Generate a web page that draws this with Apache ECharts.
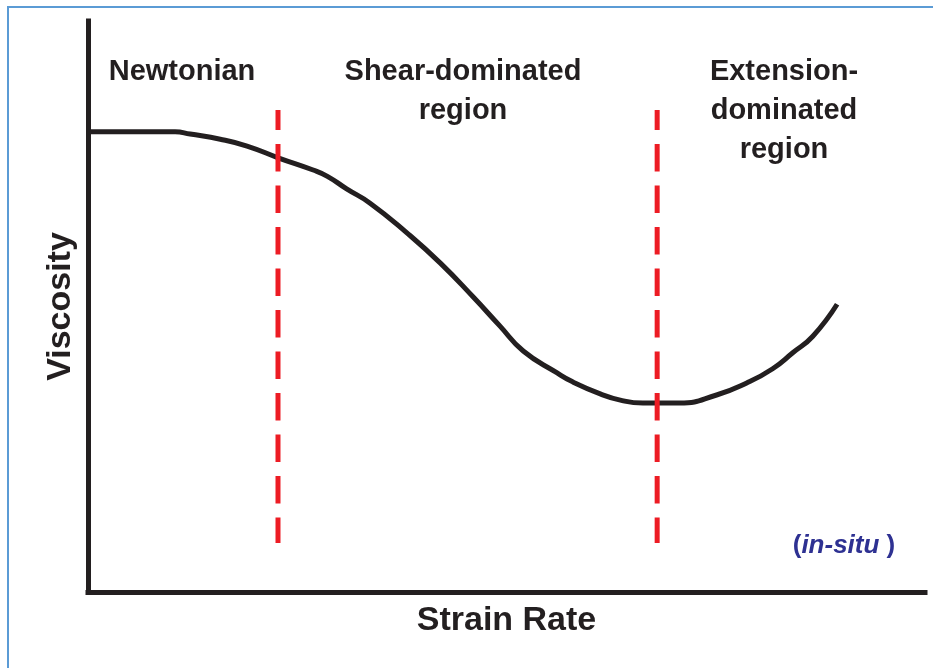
<!DOCTYPE html>
<html>
<head>
<meta charset="utf-8">
<title>Viscosity vs Strain Rate</title>
<script src="https://cdn.jsdelivr.net/npm/echarts@6/dist/echarts.min.js"></script>
<style>
  html, body { margin: 0; padding: 0; background: #fff; }
  #main { width: 933px; height: 668px; }
</style>
</head>
<body>
<div id="main"></div>
<script>
// curve (arbitrary units, 0-100 on both axes)
var strainRate = [0, 10.4, 12.2, 15.8, 19.0, 22.8, 26.9, 28.6, 30.9, 33.7, 38.1, 42.1, 46.0, 49.2, 52.0, 56.0, 57.9, 61.2, 63.6, 66.3, 70.7, 75.1, 78.7, 81.8, 84.2, 86.6, 89.5];
var viscosity  = [80.6, 80.6, 80.2, 79.3, 78.1, 76.0, 73.9, 72.8, 70.6, 68.1, 62.9, 57.6, 51.7, 46.6, 42.2, 38.4, 36.8, 34.7, 33.6, 33.1, 33.1, 34.5, 36.6, 39.1, 41.9, 44.8, 50.4];

// red dashed region boundaries
var boundaries = [22.7, 68.0];
var boundaryRange = [84.4, 8.6];

var regionLabels = [
    ['Newtonian'],
    ['Shear-dominated', 'region'],
    ['Extension-', 'dominated', 'region']
];
var noteText = 'in-situ';

var FONT = '"Liberation Sans", Arial, sans-serif';
var INK = '#231f20';

var chart = echarts.init(document.getElementById('main'));

var curveData = strainRate.map(function (x, i) { return [x, viscosity[i]]; });

var series = [{
    type: 'line',
    data: curveData,
    smooth: 0.5,
    symbol: 'none',
    lineStyle: { color: INK, width: 5 },
    z: 3
}];
boundaries.forEach(function (b) {
    series.push({
        type: 'line',
        data: [[b, boundaryRange[0]], [b, boundaryRange[1]]],
        symbol: 'none',
        lineStyle: { color: '#ed1c24', width: 5, type: [27.5, 14], dashOffset: 7.5 },
        z: 4
    });
});

// label positions (px)
var labelPos = [[182, 72], [463, 72], [784, 72]];
var lineGap = 39;
var graphics = [{
    type: 'rect',
    shape: { x: 8, y: 7, width: 940, height: 680 },
    style: { fill: 'none', stroke: '#5b9bd5', lineWidth: 2 },
    silent: true
}];
regionLabels.forEach(function (lines, k) {
    lines.forEach(function (t, j) {
        graphics.push({
            type: 'text',
            x: labelPos[k][0],
            y: labelPos[k][1] + j * lineGap,
            style: {
                text: t,
                font: 'bold 29px ' + FONT,
                fill: INK,
                textAlign: 'center',
                textVerticalAlign: 'middle'
            }
        });
    });
});
graphics.push({
    type: 'text',
    x: 844,
    y: 546,
    style: {
        text: '{p|(}{i|' + noteText + '}{p| )}',
        textAlign: 'center',
        textVerticalAlign: 'middle',
        rich: {
            p: { fontFamily: FONT, fontSize: 26, fontWeight: 'bold', fill: '#2e3192', color: '#2e3192' },
            i: { fontFamily: FONT, fontSize: 26, fontWeight: 'bold', fontStyle: 'italic', fill: '#2e3192', color: '#2e3192' }
        }
    }
});

var option = {
    animation: false,
    backgroundColor: '#fff',
    grid: { left: 88, right: 8, top: 21, bottom: 76, containLabel: false },
    xAxis: {
        type: 'value',
        min: 0,
        max: 100,
        name: 'Strain Rate',
        nameLocation: 'middle',
        nameGap: 12,
        nameTextStyle: { fontFamily: FONT, fontSize: 34, fontWeight: 'bold', color: INK, verticalAlign: 'top' },
        axisLine: { show: true, lineStyle: { color: INK, width: 5, cap: 'square' } },
        axisTick: { show: false },
        axisLabel: { show: false },
        splitLine: { show: false }
    },
    yAxis: {
        type: 'value',
        min: 0,
        max: 100,
        name: 'Viscosity',
        nameLocation: 'middle',
        nameRotate: 90,
        nameGap: 10,
        nameTextStyle: { fontFamily: FONT, fontSize: 34, fontWeight: 'bold', color: INK },
        axisLine: { show: true, lineStyle: { color: INK, width: 5, cap: 'square' } },
        axisTick: { show: false },
        axisLabel: { show: false },
        splitLine: { show: false }
    },
    series: series,
    graphic: graphics
};

chart.setOption(option);
</script>
</body>
</html>
